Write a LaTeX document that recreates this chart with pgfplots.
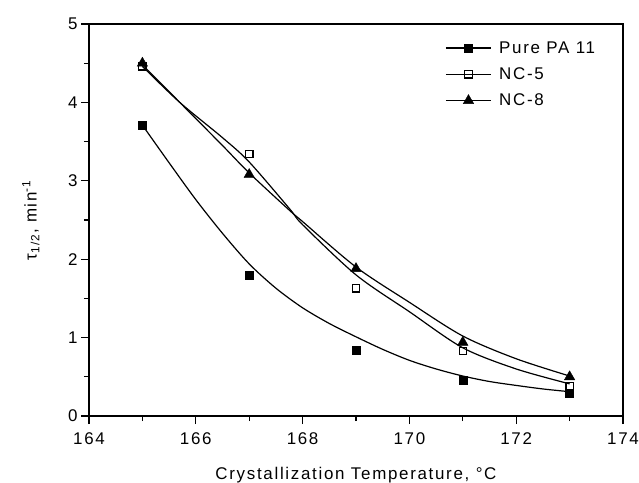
\documentclass[border=0pt]{standalone}
\usepackage{fontspec}
\setmainfont[LetterSpace=10]{Liberation Sans}
\usepackage{pgfplots}
\pgfplotsset{compat=1.18}
\newcommand{\chfont}{\fontsize{17}{20}\selectfont}
\begin{document}
\begin{tikzpicture}
\begin{axis}[
  scale only axis, width=534bp, height=392bp,
  xmin=164, xmax=174, ymin=0, ymax=5,
  xtick={164,166,...,174}, minor xtick={165,167,...,173},
  ytick={0,1,...,5}, minor ytick={0.5,1.5,...,4.5},
  tick align=outside, tick pos=left,
  major tick length=8bp, minor tick length=5bp,
  every tick/.style={black, line width=1.2bp},
  axis line style={line width=1.2bp},
  /pgf/number format/assume math mode=true,
  tick label style={font=\chfont},
  xticklabel style={yshift=-5bp},
  xlabel={Crystallization Temperature, °C},
  ylabel={τ\textsubscript{1/2}, min\textsuperscript{-1}},
  every axis x label/.style={at={(axis description cs:0.5,-0.163)}, anchor=base, font=\chfont},
  every axis y label/.style={at={(axis description cs:-0.109,0.5)}, rotate=90, anchor=center, font=\chfont},
  legend style={at={(axis description cs:0.667,0.966)}, anchor=north west,
    draw=none, fill=none, font=\chfont, row sep=9bp, inner xsep=0pt},
  legend cell align=left,
  legend image code/.code={\draw[line width=1.2bp,black] (0bp,0bp)--(45bp,0bp);
    \draw[#1] plot coordinates {(22.5bp,0bp)};
    \path (51bp,0bp);},
]
% fitted curves
\addplot[black, line width=1.2bp, smooth, forget plot] coordinates {
 (165,3.71) (165.5,3.23) (166,2.76) (166.5,2.33) (167,1.94) (167.5,1.63)
 (168,1.38) (168.5,1.18) (169,1.01) (169.5,0.85) (170,0.71) (170.5,0.60)
 (171,0.51) (171.5,0.44) (172,0.39) (172.5,0.345) (173,0.31)};
\addplot[black, line width=1.2bp, smooth, forget plot] coordinates {
 (165,4.46) (165.7,4.00) (166.5,3.55) (167,3.24) (167.76,2.64) (168,2.44)
 (169,1.80) (170,1.33) (171,0.87) (172,0.60) (173,0.41)};
\addplot[black, line width=1.2bp, smooth, forget plot] coordinates {
 (165,4.48) (165.7,4.00) (166.5,3.45) (167,3.10) (167.76,2.62) (168,2.48)
 (169,1.90) (170,1.45) (171,1.02) (172,0.73) (173,0.51)};
% data points
\addplot[black, only marks, mark=square*, mark size=4bp] coordinates {
 (165,3.71) (167,1.79) (169,0.84) (171,0.46) (173,0.29)};
\addlegendentry{Pure PA 11}
\addplot[black, only marks, mark=square, mark size=3.7bp, mark options={fill=white, line width=1.2bp}] coordinates {
 (165,4.46) (167,3.34) (169,1.63) (171,0.83) (173,0.38)};
\addlegendentry{NC-5}
\addplot[black, only marks, mark=triangle*, mark size=6bp] coordinates {
 (165,4.50) (167,3.08) (169,1.88) (171,0.94) (173,0.50)};
\addlegendentry{NC-8}
\draw[line width=2bp] (rel axis cs:0,1) -- (rel axis cs:0,0) -- (rel axis cs:1,0);
\end{axis}
\pgfresetboundingbox
\path (-89bp,-67bp) rectangle (550bp,416bp);
\end{tikzpicture}
\end{document}
